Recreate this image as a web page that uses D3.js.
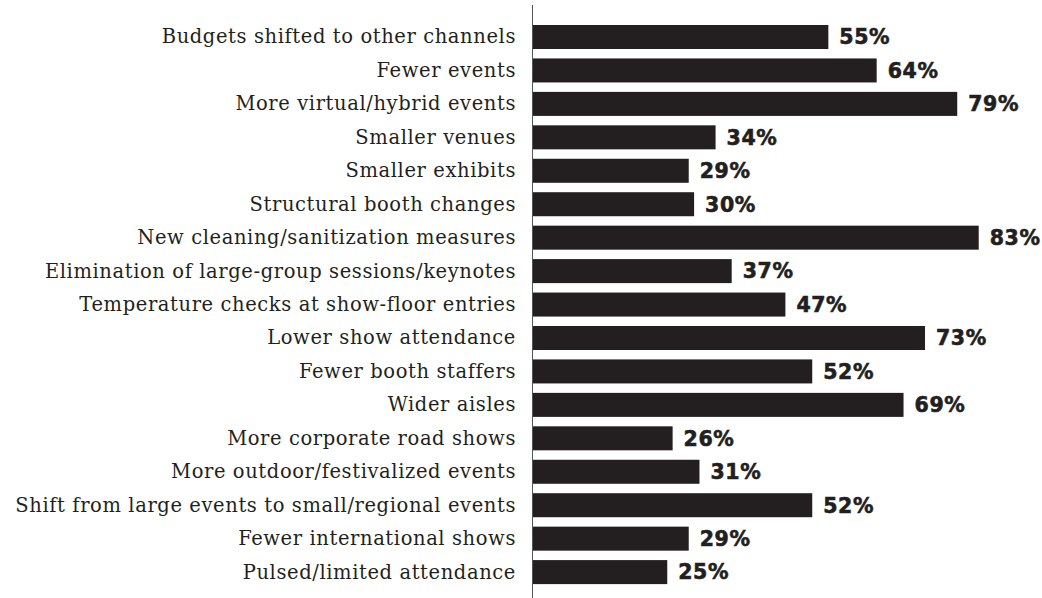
<!DOCTYPE html>
<html>
<head>
<meta charset="utf-8">
<script src="https://cdn.jsdelivr.net/npm/d3@7"></script>
<style>
  html, body { margin: 0; padding: 0; background: #fff; }
  svg { display: block; }
</style>
</head>
<body>
<svg id="chart" width="1042" height="598"></svg>
<script>
// Changes expected at trade shows and events
const categories = [
  "Budgets shifted to other channels",
  "Fewer events",
  "More virtual/hybrid events",
  "Smaller venues",
  "Smaller exhibits",
  "Structural booth changes",
  "New cleaning/sanitization measures",
  "Elimination of large-group sessions/keynotes",
  "Temperature checks at show-floor entries",
  "Lower show attendance",
  "Fewer booth staffers",
  "Wider aisles",
  "More corporate road shows",
  "More outdoor/festivalized events",
  "Shift from large events to small/regional events",
  "Fewer international shows",
  "Pulsed/limited attendance"
];
const values = [55, 64, 79, 34, 29, 30, 83, 37, 47, 73, 52, 69, 26, 31, 52, 29, 25];

const data = categories.map((c, i) => ({ category: c, value: values[i] }));

const svg = d3.select("#chart");
const axisX = 533;
const ink = "#231f20";

const x = d3.scaleLinear().domain([0, 100]).range([axisX, axisX + 537]);
const y = d3.scaleBand()
  .domain(categories)
  .range([25, 584.1])
  .paddingInner(0.282)
  .paddingOuter(0);

// bars
svg.append("g")
  .selectAll("rect")
  .data(data)
  .join("rect")
  .attr("x", x(0))
  .attr("y", d => y(d.category))
  .attr("width", d => x(d.value) - x(0))
  .attr("height", y.bandwidth())
  .attr("fill", ink);

// baseline
svg.append("line")
  .attr("x1", axisX - 0.5).attr("x2", axisX - 0.5)
  .attr("y1", 5).attr("y2", 598)
  .attr("stroke", "#555")
  .attr("stroke-width", 1);

// category labels
svg.append("g")
  .selectAll("text")
  .data(data)
  .join("text")
  .attr("x", 516)
  .attr("y", d => y(d.category) + y.bandwidth() / 2)
  .attr("dy", "0.33em")
  .attr("text-anchor", "end")
  .attr("fill", ink)
  .style("font-family", "'DejaVu Serif', serif")
  .style("font-size", "19.5px")
  .style("letter-spacing", "0.6px")
  .text(d => d.category);

// value labels
svg.append("g")
  .selectAll("text")
  .data(data)
  .join("text")
  .attr("x", d => x(d.value) + 11)
  .attr("y", d => y(d.category) + y.bandwidth() / 2)
  .attr("dy", "0.36em")
  .attr("fill", ink)
  .attr("stroke", ink)
  .attr("stroke-width", 0.6)
  .style("font-family", "'DejaVu Sans', sans-serif")
  .style("font-weight", "bold")
  .style("font-size", "20.5px")
  .style("letter-spacing", "0.6px")
  .text(d => d.value + "%");
</script>
</body>
</html>
